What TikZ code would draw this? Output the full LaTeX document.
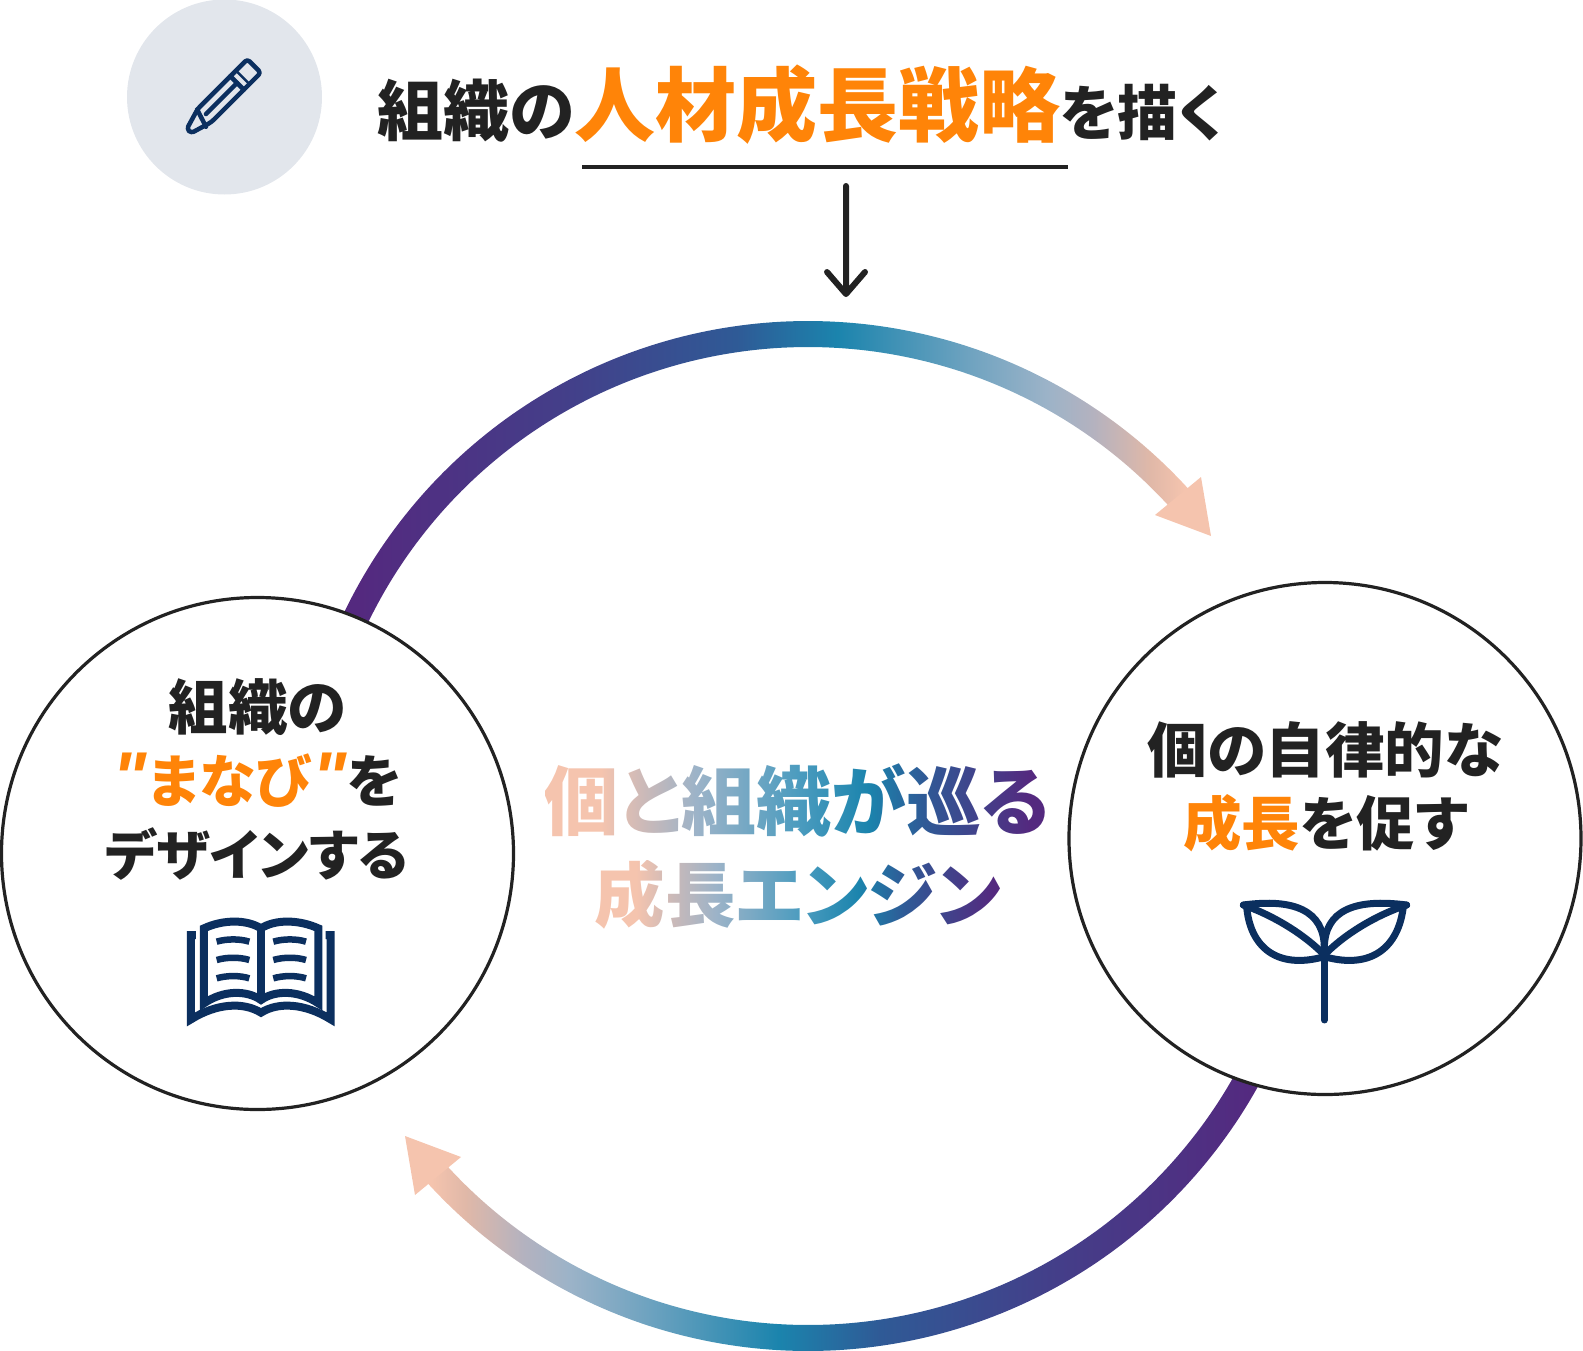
\documentclass[tikz,border=0pt]{standalone}
\usepackage{fontspec}
\usetikzlibrary{fadings,shadings}
\setmainfont{Noto Sans CJK JP}
\newfontfamily\jp[RawFeature=+palt,BoldFont={Noto Sans CJK JP Black}]{Noto Sans CJK JP}
\newfontfamily\quotefont{Liberation Sans}
\definecolor{peach}{HTML}{F5C4AE}
\definecolor{tealblue}{HTML}{1B84AD}
\definecolor{midblue}{HTML}{2F5A96}
\definecolor{purple}{HTML}{54297F}
\definecolor{fadeA}{HTML}{C9B9B9}
\definecolor{fadeB}{HTML}{9CB3C8}
\definecolor{fadeC}{HTML}{4C9CBF}
\definecolor{fadeD}{HTML}{6FA3C0}
\definecolor{fadeE}{HTML}{B4B2BF}
\definecolor{fadeF}{HTML}{E0B8A8}
\definecolor{inkdark}{HTML}{222222}
\definecolor{accent}{HTML}{FF8408}
\definecolor{navy}{HTML}{0B2F5F}
\definecolor{pencilbg}{HTML}{E2E6EC}
\pgfdeclarehorizontalshading{ringshade}{100bp}{
  color(0bp)=(purple); color(28.2bp)=(purple); color(39.5bp)=(purple!55!midblue);
  color(48.7bp)=(midblue); color(54.2bp)=(tealblue); color(61.4bp)=(fadeD); color(65.6bp)=(fadeB);
  color(68.1bp)=(fadeE); color(71.2bp)=(fadeF); color(73.1bp)=(peach); color(100bp)=(peach)}
\pgfdeclarehorizontalshading{engineshade}{100bp}{
  color(0bp)=(peach); color(30.5bp)=(peach); color(35bp)=(fadeA);
  color(40bp)=(fadeB); color(50bp)=(fadeC);
  color(57bp)=(tealblue); color(62.5bp)=(midblue); color(73bp)=(purple); color(100bp)=(purple)}
\tikzstyle{circlebox} = [circle, draw=inkdark, line width=3.2pt, fill=white, minimum size=512pt, inner sep=0pt]
\tikzstyle{bodytext} = [text=inkdark, font=\jp\bfseries, inner sep=0pt, anchor=center]
\tikzstyle{iconline} = [navy, line width=8pt, line join=miter]
\tikzstyle{leafline} = [navy, line width=7pt, line cap=round, line join=round]
\tikzstyle{penline} = [navy, line width=4.5pt, line join=round, line cap=round]
\newcommand{\sized}[1]{\fontsize{#1}{#1}\selectfont}
\newcommand{\slantquote}{{\quotefont\bfseries\itshape\sized{72}"}}
\newcommand{\drawPencil}[2]{
  \begin{scope}[shift={(#1,#2)}, rotate=45]
    % outline, tip first
    \draw[penline, rounded corners=3pt] (0,-3) -- (22,-9.5) -- (92,-9.5) -- (92,9.5) -- (22,9.5) -- (0,3) -- cycle;
    \draw[penline] (21,-9.5) -- (15,9);
    \draw[penline] (24,0) -- (68,0);
    \draw[penline] (68,-9.5) -- (68,9.5);
    \draw[navy, line width=2.5pt] (76,-9.5) -- (76,9.5);
  \end{scope}
}
\newcommand{\drawBook}[2]{
  \begin{scope}[shift={(#1,#2)}, x=0.3333pt, y=-0.3333pt]
    \draw[iconline] (108,135) -- (93,135) -- (93,388) .. controls (170,340) and (250,335) .. (303,368)
      .. controls (355,335) and (435,340) .. (512,388) -- (512,135) -- (497,135);
    \draw[iconline] (132,340) -- (132,115) .. controls (190,88) and (260,88) .. (303,115)
      .. controls (345,88) and (415,88) .. (475,115) -- (475,340) .. controls (415,300) and (345,300) .. (303,330)
      .. controls (260,300) and (190,300) .. (132,340) -- cycle;
    \draw[iconline] (303,115) -- (303,330);
    % lines of print
    \foreach \ly in {150,205,260} {
      \draw[navy, line width=6.5pt] (170,\ly+5) .. controls (200,\ly-4) and (240,\ly-4) .. (268,\ly+5);
      \draw[navy, line width=6.5pt] (340,\ly+5) .. controls (370,\ly-4) and (410,\ly-4) .. (438,\ly+5);
    }
  \end{scope}
}
\newcommand{\drawSprout}[2]{
  \begin{scope}[shift={(#1,#2)}, x=0.3333pt, y=-0.3333pt]
    \draw[leafline] (343,225) -- (343,420);
    \draw[leafline] (100,75) .. controls (250,55) and (343,90) .. (343,205);
    \draw[leafline] (110,80) .. controls (120,200) and (200,270) .. (343,230);
    \draw[leafline] (100,75) .. controls (200,110) and (290,170) .. (343,225);
    \draw[leafline] (590,75) .. controls (436,55) and (343,90) .. (343,205);
    \draw[leafline] (580,80) .. controls (566,200) and (486,270) .. (343,230);
    \draw[leafline] (590,75) .. controls (486,110) and (396,170) .. (343,225);
  \end{scope}
}
\begin{tikzfadingfrompicture}[name=engineone]
  \node[text=transparent!0, font=\jp\bfseries\sized{75}, inner sep=0pt] {個と組織が巡る};
\end{tikzfadingfrompicture}
\begin{tikzfadingfrompicture}[name=enginetwo]
  \node[text=transparent!0, font=\jp\bfseries\sized{70.5}, inner sep=0pt] {成長エンジン};
\end{tikzfadingfrompicture}
\begin{document}
\begin{tikzpicture}[x=1pt,y=-1pt]
  \useasboundingbox (0,0) rectangle (1583,1350);

  % ring: upper arrow, then the same turned half way round
  \coordinate (ringc) at (808,836);
  \foreach \turn in {0,180} {
    \begin{scope}[rotate around={\turn:(ringc)}]
      \begin{scope}
        \clip plot[domain=158:40, samples=130] ({808+515*cos(\x)},{836-515*sin(\x)})
          -- plot[domain=40:158, samples=130] ({808+489*cos(\x)},{836-489*sin(\x)}) -- cycle;
        \shade[shading=ringshade, shading angle=\turn] (300,300) rectangle (1220,660);
      \end{scope}
      \fill[peach] (1201,477) -- (1155,515) -- (1211,536) -- cycle;
    \end{scope}
  }

  % icon circle and title
  \node[circle, fill=pencilbg, minimum size=195pt, inner sep=0pt] (pencilbg) at (224.5,97) {};
  \drawPencil{189}{131}
  \node[anchor=base west, inner sep=0pt, text=inkdark, font=\jp\bfseries] (title) at (377,135)
    {\sized{66}組織の\textcolor{accent}{\sized{81}人材成長戦略}\sized{60}を描く};
  \coordinate (ulA) at (582,167);
  \coordinate (ulB) at (1068,167);
  \coordinate (downA) at (846,186);
  \coordinate (downB) at (846,294);
  \draw[inkdark, line width=4.5pt] (ulA) -- (ulB);
  \draw[inkdark, line width=6pt, line cap=round, line join=round] (downA) -- (downB) (827,272) -- (downB) -- (865,272);

  % left circle
  \node[circlebox] (leftc) at (257.5,853.5) {};
  \node[bodytext] (leftA) at (257.5,707) {\sized{59.5}組織の};
  \node[bodytext] (leftB) at (257,780) {\sized{57}\textcolor{accent}{\slantquote\hspace{2pt}まなび\hspace{2pt}\slantquote}を};
  \node[bodytext] (leftC) at (256.5,854) {\sized{54.5}デザインする};
  \drawBook{160}{890}

  % right circle
  \node[circlebox] (rightc) at (1325,838.5) {};
  \node[bodytext] (rightA) at (1325,750) {\sized{59.5}個の自律的な};
  \node[bodytext] (rightB) at (1325.5,823) {\sized{58.5}\textcolor{accent}{成長}を促す};
  \drawSprout{1210}{880}

  % centre heading
  \shade[shading=engineshade, path fading=engineone, fit fading=false, fading transform={shift={(797,800)}}]
    (545,750) rectangle (1050,852);
  \shade[shading=engineshade, path fading=enginetwo, fit fading=false, fading transform={shift={(798,895)}}]
    (590,845) rectangle (1010,945);
\end{tikzpicture}
\end{document}
